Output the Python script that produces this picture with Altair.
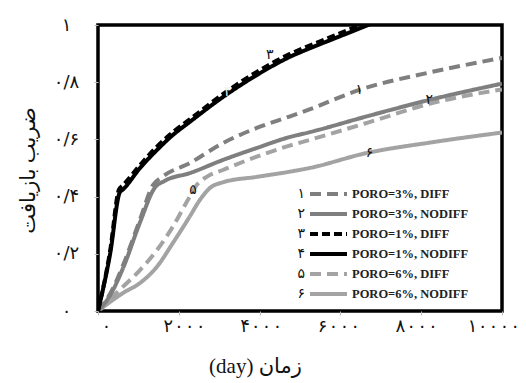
import altair as alt
import pandas as pd

# ---- data ----
series_names = ["PORO=3%, DIFF", "PORO=3%, NODIFF", "PORO=1%, DIFF",
                "PORO=1%, NODIFF", "PORO=6%, DIFF", "PORO=6%, NODIFF"]
series_digits = ["۱", "۲", "۳", "۴", "۵", "۶"]

s1_x = [0, 300, 620, 1040, 1360, 1600, 2270, 3090, 3930, 4740, 5235, 6470, 8270, 9850, 10000]
s1_y = [0, 0.06, 0.16, 0.32, 0.44, 0.47, 0.517, 0.587, 0.64, 0.68, 0.705, 0.773, 0.836, 0.881, 0.885]

s2_x = [0, 300, 620, 1040, 1400, 1650, 2270, 3090, 3930, 4740, 5235, 6640, 8200, 10000]
s2_y = [0, 0.055, 0.15, 0.31, 0.43, 0.455, 0.482, 0.528, 0.57, 0.608, 0.625, 0.68, 0.738, 0.795]

s3_x = [0, 300, 520, 620, 1040, 1460, 1850, 2270, 3090, 3930, 4740, 5235, 5800, 6400, 7000]
s3_y = [0, 0.21, 0.425, 0.44, 0.51, 0.575, 0.625, 0.67, 0.758, 0.836, 0.898, 0.928, 0.96, 0.995, 1.03]

s4_x = [0, 300, 540, 620, 1040, 1460, 1850, 2270, 3090, 3930, 4740, 5235, 5800, 6600, 7200]
s4_y = [0, 0.2, 0.415, 0.425, 0.50, 0.563, 0.615, 0.661, 0.748, 0.825, 0.888, 0.918, 0.95, 0.995, 1.03]

s5_x = [0, 620, 1040, 1460, 1850, 2270, 2440, 2700, 3090, 3930, 4740, 5235, 6640, 8270, 10000]
s5_y = [0, 0.085, 0.143, 0.213, 0.294, 0.40, 0.44, 0.47, 0.493, 0.54, 0.578, 0.598, 0.657, 0.727, 0.775]

s6_x = [0, 620, 1040, 1460, 1850, 2270, 2520, 2770, 3090, 3930, 4740, 5235, 6640, 8270, 10000]
s6_y = [0, 0.063, 0.098, 0.155, 0.237, 0.33, 0.388, 0.43, 0.45, 0.469, 0.487, 0.50, 0.552, 0.59, 0.624]

# in-plot curve number labels (data units)
ann_x = [6470, 8200, 4250, 3210, 2350, 6720]
ann_y = [0.773, 0.738, 0.895, 0.766, 0.423, 0.552]
ann_colors = ["#111111", "#111111", "#111111", "#f2f2f2", "#111111", "#111111"]

x_ticks = [0, 2000, 4000, 6000, 8000, 10000]
x_tick_labels = ["۰", "۲۰۰۰", "۴۰۰۰", "۶۰۰۰", "۸۰۰۰", "۱۰۰۰۰"]
x_label_shift = [8, 5, 1, -2, -5, -9]   # label placement nudges seen in the reference
y_ticks = [0, 0.2, 0.4, 0.6, 0.8, 1]
y_tick_labels = ["۰", "۰/۲", "۰/۴", "۰/۶", "۰/۸", "۱"]

x_title = "\u202bزمان (day)\u202c"
y_title = "ضریب بازیافت"

# ---- styles ----
series_colors = ["#7f7f7f", "#7f7f7f", "#000000", "#000000", "#a3a3a3", "#a3a3a3"]
series_dash = [[11, 6], [1, 0], [8, 4], [1, 0], [11, 6], [1, 0]]
series_width = [4, 4, 3, 3, 3.5, 3.5]

all_x = [s1_x, s2_x, s3_x, s4_x, s5_x, s6_x]
all_y = [s1_y, s2_y, s3_y, s4_y, s5_y, s6_y]
draw_order = [4, 5, 0, 1, 3, 2]
rows = []
for i in draw_order:
    for xv, yv in zip(all_x[i], all_y[i]):
        rows.append({"series": series_names[i], "day": xv, "rf": yv})
df = pd.DataFrame(rows)

ann_df = pd.DataFrame({"day": ann_x, "rf": ann_y, "digit": series_digits, "col": ann_colors})
leg_df = pd.DataFrame({"digit": series_digits})


def label_map(vals, labels):
    pairs = ",".join(f"'{v}':'{l}'" for v, l in zip(vals, labels))
    return "{" + pairs + "}['' + datum.value]"


x_offset_cond = {
    "condition": [{"test": f"datum.value == {v}", "value": s} for v, s in zip(x_ticks, x_label_shift)],
    "value": 0,
}

x_enc = alt.X("day:Q", scale=alt.Scale(domain=[0, 10000], nice=False),
              axis=alt.Axis(values=x_ticks, labelExpr=label_map(x_ticks, x_tick_labels),
                            title=x_title, labelBaseline="middle", labelPadding=11,
                            labelFont="DejaVu Sans Mono", labelFontSize=18,
                            labelOffset=x_offset_cond,
                            titleX=157, titleY=55, titleBaseline="middle", titleAlign="center",
                            titleFontSize=21, labelFlush=False))
y_enc = alt.Y("rf:Q", scale=alt.Scale(domain=[0, 1], nice=False),
              axis=alt.Axis(values=y_ticks, labelExpr=label_map(y_ticks, y_tick_labels),
                            title=y_title, labelAlign="center", labelPadding=28,
                            titleX=-70, titleY=145, titleAngle=270, titleBaseline="middle",
                            titleAlign="center", titleFontSize=21, labelFontSize=18))

legend_main = alt.Legend(orient="none", legendX=210, legendY=159, title=None,
                         symbolType="stroke", symbolSize=1369, symbolStrokeWidth=4,
                         labelFont="Liberation Serif", labelFontWeight="bold",
                         labelFontSize=12.5, labelColor="#222222", labelOffset=3,
                         clipHeight=20, rowPadding=0, padding=0, labelLimit=300)

lines = alt.Chart(df).mark_line(clip=True, interpolate="monotone").encode(
    x=x_enc,
    y=y_enc,
    stroke=alt.Stroke("series:N", scale=alt.Scale(domain=series_names, range=series_colors),
                      legend=legend_main),
    strokeDash=alt.StrokeDash("series:N", scale=alt.Scale(domain=series_names, range=series_dash),
                              legend=legend_main),
    strokeWidth=alt.StrokeWidth("series:N", scale=alt.Scale(domain=series_names, range=series_width),
                                legend=None),
)

ann = alt.Chart(ann_df).mark_text(font="DejaVu Sans", fontSize=14).encode(
    x="day:Q", y="rf:Q", text="digit:N", color=alt.Color("col:N", scale=None))

digit_legend = alt.Chart(leg_df).mark_point(opacity=0).encode(
    x=alt.value(0), y=alt.value(0),
    fill=alt.Fill("digit:N", scale=alt.Scale(domain=series_digits, range=series_colors),
                  legend=alt.Legend(orient="none", legendX=193, legendY=159, title=None,
                                    symbolOpacity=0, symbolSize=0, labelAlign="right",
                                    labelOffset=0, clipHeight=20, rowPadding=0, padding=0,
                                    labelFont="DejaVu Sans", labelFontSize=14,
                                    labelColor="#111111")),
)

chart = alt.layer(lines, ann, digit_legend).properties(
    width=404, height=286,
    autosize=alt.AutoSizeParams(type="none"),
    padding={"left": 98, "top": 25, "right": 24, "bottom": 72},
    background="white",
).configure_view(
    stroke="black", strokeWidth=3.5
).configure_axis(
    domain=False, grid=False, ticks=True, tickSize=4, tickColor="#bbbbbb",
    labelFont="DejaVu Sans", labelFontSize=17, labelColor="#111111",
    titleFont="Liberation Serif, DejaVu Sans", titleFontSize=18, titleFontWeight="normal",
    titleColor="#111111",
)

chart.save("out.html", embed_options={"renderer": "svg", "actions": False})
